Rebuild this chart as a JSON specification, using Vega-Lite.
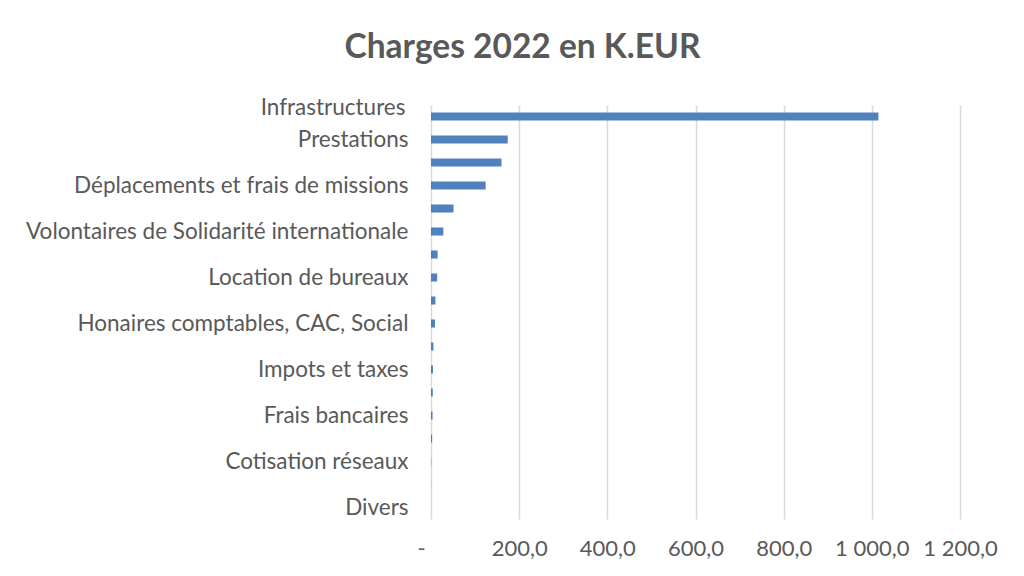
{
  "$schema": "https://vega.github.io/schema/vega-lite/v6.json",
  "width": 529,
  "height": 414,
  "autosize": {"type": "none"},
  "padding": {"left": 431, "top": 105, "right": 64, "bottom": 57},
  "background": "white",
  "config": {
    "view": {"stroke": null},
    "locale": {"number": {"decimal": ",", "thousands": " ", "grouping": [3], "currency": ["", " €"]}},
    "font": "Lato"
  },
  "title": {
    "text": "Charges 2022 en K.EUR",
    "font": "Lato",
    "fontSize": 33.5,
    "fontWeight": "bold",
    "color": "#595959",
    "anchor": "middle",
    "frame": "group",
    "baseline": "alphabetic",
    "offset": 5,
    "dx": -173
  },
  "data": {
    "values": [
      {"rang": 1, "poste": "Infrastructures", "montant": 1015},
      {"rang": 2, "poste": "Prestations", "montant": 174},
      {"rang": 3, "poste": "", "montant": 160},
      {"rang": 4, "poste": "Déplacements et frais de missions", "montant": 124},
      {"rang": 5, "poste": "", "montant": 51},
      {"rang": 6, "poste": "Volontaires de Solidarité internationale", "montant": 28},
      {"rang": 7, "poste": "", "montant": 15},
      {"rang": 8, "poste": "Location de bureaux", "montant": 14},
      {"rang": 9, "poste": "", "montant": 10},
      {"rang": 10, "poste": "Honaires comptables, CAC, Social", "montant": 9},
      {"rang": 11, "poste": "", "montant": 5.5},
      {"rang": 12, "poste": "Impots et taxes", "montant": 4.5},
      {"rang": 13, "poste": "", "montant": 4},
      {"rang": 14, "poste": "Frais bancaires", "montant": 3.5},
      {"rang": 15, "poste": "", "montant": 2.5},
      {"rang": 16, "poste": "Cotisation réseaux", "montant": 0.5},
      {"rang": 17, "poste": "", "montant": 0.2},
      {"rang": 18, "poste": "Divers", "montant": 0}
    ]
  },
  "mark": {"type": "bar", "color": "#4f81bd"},
  "encoding": {
    "y": {
      "field": "rang",
      "type": "ordinal",
      "sort": "ascending",
      "scale": {"paddingInner": 0.65, "paddingOuter": 0.325},
      "axis": {
        "title": null,
        "domain": false,
        "ticks": false,
        "grid": false,
        "labelExpr": "['Infrastructures','','Prestations','','Déplacements et frais de missions','','Volontaires de Solidarité internationale','','Location de bureaux','','Honaires comptables, CAC, Social','','Impots et taxes','','Frais bancaires','','Cotisation réseaux','','Divers'][datum.value == 1 ? 0 : datum.value]",
        "labelFont": "Lato",
        "labelFontSize": 22.5,
        "labelColor": "#595959",
        "labelPadding": {"condition": {"test": "datum.value == 1", "value": 26}, "value": 23},
        "labelOffset": {"condition": {"test": "datum.value == 1", "value": -9}, "value": 0},
        "labelLimit": 500,
        "labelOverlap": false
      }
    },
    "x": {
      "field": "montant",
      "type": "quantitative",
      "scale": {"domain": [0, 1200], "nice": false},
      "axis": {
        "title": null,
        "domain": false,
        "ticks": false,
        "values": [0, 200, 400, 600, 800, 1000, 1200],
        "labelExpr": "datum.value == 0 ? '-' : format(datum.value, ',.1f')",
        "labelFont": "Lato",
        "labelFontSize": 22,
        "labelColor": "#595959",
        "labelPadding": 19,
        "labelOffset": {"condition": {"test": "datum.value == 0", "value": -10}, "value": 0},
        "labelFlush": false,
        "labelOverlap": false,
        "gridColor": "#d9d9d9",
        "gridWidth": 1.5
      }
    }
  }
}
